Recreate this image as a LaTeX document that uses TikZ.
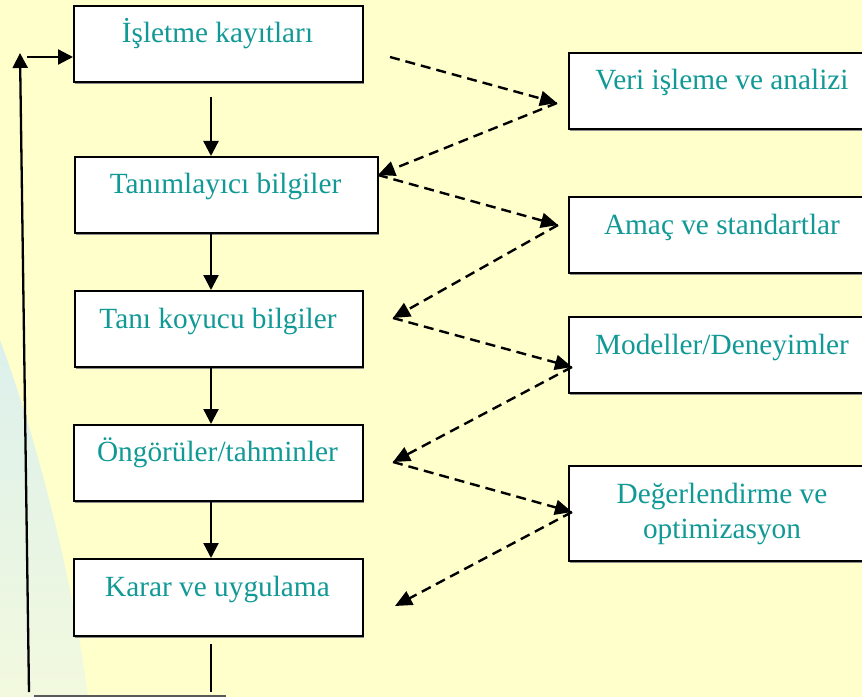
\documentclass[tikz,border=0pt]{standalone}
\usepackage{fontspec}
\setmainfont{Liberation Serif}
\usetikzlibrary{arrows.meta,shadows}
\definecolor{bgyellow}{RGB}{255,255,204}
\definecolor{txtteal}{RGB}{17,153,150}
\definecolor{paletop}{RGB}{220,240,236}
\definecolor{palebot}{RGB}{242,249,222}
\tikzset{
  box/.style={draw=black, line width=2.4bp, fill=white, rectangle, inner sep=0pt, anchor=north west,
    drop shadow={shadow xshift=0.8bp, shadow yshift=-1.4bp, fill=black!45, opacity=1}},
  txt/.style={text=txtteal, font=\fontsize{29.3bp}{35bp}\selectfont, anchor=base, inner sep=0pt},
  solidarr/.style={draw=black, line width=2.3bp, -{Triangle[length=15bp, width=15bp]}},
  dasharr/.style={draw=black, line width=2.4bp, dash pattern=on 10bp off 6bp, -{Triangle[length=17bp, width=15bp]}},
  plainline/.style={draw=black, line width=2.3bp},
  baseline/.style={draw=black!65, line width=1.6bp}
}
\begin{document}
\begin{tikzpicture}[x=1bp, y=-1bp]
\useasboundingbox (0,0) rectangle (862,697);
\clip (0,0) rectangle (862,697);
\fill[bgyellow] (0,0) rectangle (862,697);
\shade[top color=paletop, bottom color=palebot] (0,340) .. controls (30,420) and (70,560) .. (88,697) -- (0,697) -- cycle;

% left column boxes
\node[box, minimum width=289bp, minimum height=76bp] (b1) at (73,5) {};
\node[box, minimum width=303bp, minimum height=76bp] (b2) at (74,156) {};
\node[box, minimum width=288bp, minimum height=76bp] (b3) at (74,290) {};
\node[box, minimum width=289bp, minimum height=76bp] (b4) at (73,424) {};
\node[box, minimum width=289bp, minimum height=77bp] (b5) at (73,558) {};

\node[txt] (t1) at (217.5,43) {İşletme kayıtları};
\node[txt] (t2) at (225.5,193) {Tanımlayıcı bilgiler};
\node[txt] (t3) at (218,328) {Tanı koyucu bilgiler};
\node[txt] (t4) at (217.5,461) {Öngörüler/tahminler};
\node[txt] (t5) at (217.5,596) {Karar ve uygulama};

% right column boxes
\node[box, minimum width=312bp, minimum height=76bp] (rA) at (568,52) {};
\node[box, minimum width=312bp, minimum height=76bp] (rB) at (568,196) {};
\node[box, minimum width=312bp, minimum height=76bp] (rC) at (568,316) {};
\node[box, minimum width=312bp, minimum height=95bp] (rD) at (568,465) {};

\node[txt] (tA) at (722,90) {Veri işleme ve analizi};
\node[txt] (tB) at (722,234) {Amaç ve standartlar};
\node[txt] (tC) at (722,354) {Modeller/Deneyimler};
\node[txt] (tD1) at (722,503) {Değerlendirme ve};
\node[txt] (tD2) at (722,538) {optimizasyon};

% vertical arrows
\coordinate (a1) at (211,97);
\draw[solidarr] (a1) -- (a1 |- b2.north);
\draw[solidarr] (a1 |- b2.south) -- (a1 |- b3.north);
\draw[solidarr] (a1 |- b3.south) -- (a1 |- b4.north);
\draw[solidarr] (a1 |- b4.south) -- (a1 |- b5.north);
\coordinate (e1) at (211,644);
\coordinate (e2) at (211,692);
\draw[plainline] (e1) -- (e2);

% feedback loop
\coordinate (fb) at (29,692);
\coordinate (ft) at (20,53);
\draw[solidarr] (fb) -- (ft);
\coordinate (fh) at (27,57);
\draw[solidarr] (fh) -- (fh -| b1.west);
\coordinate (g1) at (34,696);
\coordinate (g2) at (226,696);
\draw[baseline] (g1) -- (g2);

% dashed zigzag
\coordinate (s0) at (390,57);
\coordinate (r1) at (557,103);
\coordinate (l2) at (378,175);
\coordinate (r2) at (558,225);
\coordinate (l3) at (393,318);
\coordinate (r3) at (572,367);
\coordinate (l4) at (393,462);
\coordinate (r4) at (572,512);
\coordinate (l5) at (395,606);
\draw[dasharr] (s0) -- (r1);
\draw[dasharr] (r1) -- (l2);
\draw[dasharr] (l2) -- (r2);
\draw[dasharr] (r2) -- (l3);
\draw[dasharr] (l3) -- (r3);
\draw[dasharr] (r3) -- (l4);
\draw[dasharr] (l4) -- (r4);
\draw[dasharr] (r4) -- (l5);
\end{tikzpicture}
\end{document}
